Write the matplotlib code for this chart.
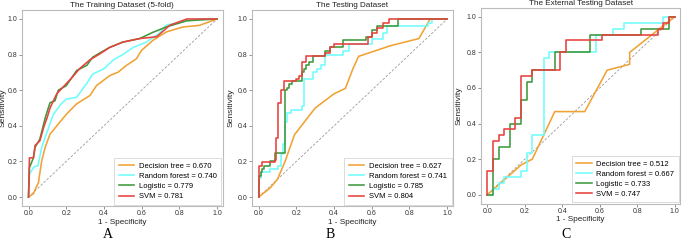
import matplotlib.pyplot as plt

plt.rcParams['font.family'] = ['Liberation Sans', 'DejaVu Sans']

# ---- data (fpr, tpr) ----
# A: training (5-fold)
train_dt_x = [0, 0.026, 0.040, 0.053, 0.062, 0.070, 0.088, 0.114, 0.158, 0.202, 0.255, 0.326, 0.361, 0.431, 0.475, 0.519, 0.572, 0.599, 0.660, 0.731, 0.819, 0.907, 1.0]
train_dt_y = [0, 0.019, 0.053, 0.081, 0.147, 0.203, 0.278, 0.353, 0.410, 0.466, 0.523, 0.570, 0.626, 0.682, 0.701, 0.739, 0.776, 0.823, 0.880, 0.927, 0.955, 0.964, 1.0]
train_rf_x = [0, 0.005, 0.03, 0.05, 0.07, 0.10, 0.13, 0.17, 0.20, 0.255, 0.31, 0.34, 0.40, 0.45, 0.50, 0.555, 0.625, 0.695, 0.73, 0.84, 0.92, 1.0]
train_rf_y = [0, 0.13, 0.17, 0.175, 0.28, 0.37, 0.46, 0.52, 0.55, 0.56, 0.64, 0.69, 0.72, 0.77, 0.80, 0.84, 0.87, 0.92, 0.965, 0.99, 1.0, 1.0]
train_lr_x = [0, 0.005, 0.026, 0.035, 0.06, 0.09, 0.114, 0.14, 0.158, 0.20, 0.255, 0.31, 0.34, 0.38, 0.43, 0.50, 0.59, 0.66, 0.73, 0.84, 1.0]
train_lr_y = [0, 0.165, 0.22, 0.28, 0.325, 0.45, 0.53, 0.54, 0.60, 0.625, 0.71, 0.74, 0.785, 0.81, 0.84, 0.87, 0.89, 0.925, 0.955, 0.99, 1.0]
train_svm_x = [0, 0.005, 0.026, 0.035, 0.06, 0.08, 0.10, 0.114, 0.15, 0.19, 0.23, 0.27, 0.325, 0.38, 0.43, 0.50, 0.59, 0.68, 0.75, 0.84, 1.0]
train_svm_y = [0, 0.22, 0.22, 0.29, 0.315, 0.39, 0.45, 0.50, 0.58, 0.625, 0.67, 0.72, 0.77, 0.805, 0.84, 0.87, 0.89, 0.90, 0.965, 1.0, 1.0]

# B: testing (step curves: x where each jump happens, tpr after jump)
test_dt_x = [0, 0.06, 0.10, 0.14, 0.19, 0.30, 0.40, 0.46, 0.50, 0.53, 0.70, 0.85, 0.91, 1.0]
test_dt_y = [0, 0.05, 0.10, 0.20, 0.35, 0.50, 0.58, 0.61, 0.72, 0.79, 0.85, 0.89, 1.0, 1.0]
test_rf_x = [0, 0.01, 0.06, 0.10, 0.12, 0.13, 0.14, 0.15, 0.17, 0.23, 0.24, 0.29, 0.31, 0.33, 0.35, 0.45, 0.48, 0.60, 0.66, 0.68, 0.90, 0.92, 1.0]
test_rf_y = [0.105, 0.14, 0.16, 0.175, 0.24, 0.30, 0.42, 0.47, 0.49, 0.51, 0.665, 0.70, 0.72, 0.74, 0.80, 0.82, 0.86, 0.89, 0.92, 0.96, 0.98, 1.0, 1.0]
test_lr_x = [0, 0.01, 0.02, 0.03, 0.06, 0.085, 0.14, 0.15, 0.16, 0.175, 0.23, 0.24, 0.25, 0.265, 0.29, 0.35, 0.38, 0.45, 0.57, 0.60, 0.63, 0.74, 1.0]
test_lr_y = [0.12, 0.14, 0.16, 0.175, 0.20, 0.245, 0.60, 0.615, 0.635, 0.65, 0.70, 0.72, 0.74, 0.76, 0.79, 0.82, 0.84, 0.88, 0.90, 0.94, 0.96, 1.0, 1.0]
test_svm_x = [0, 0.02, 0.085, 0.09, 0.10, 0.12, 0.135, 0.20, 0.215, 0.23, 0.25, 0.35, 0.38, 0.40, 0.58, 0.60, 0.63, 0.66, 0.69, 1.0]
test_svm_y = [0.175, 0.195, 0.21, 0.33, 0.53, 0.60, 0.65, 0.665, 0.68, 0.76, 0.79, 0.81, 0.84, 0.86, 0.90, 0.92, 0.95, 0.98, 1.0, 1.0]

# C: external testing
ext_dt_x = [0, 0.18, 0.24, 0.36, 0.52, 0.64, 0.76, 0.76, 1.0]
ext_dt_y = [0, 0.167, 0.20, 0.467, 0.467, 0.70, 0.733, 0.80, 1.0]
ext_rf_x = [0, 0.03, 0.06, 0.09, 0.18, 0.21, 0.24, 0.30, 0.33, 0.58, 0.67, 0.73, 0.94, 1.0]
ext_rf_y = [0, 0.033, 0.067, 0.10, 0.133, 0.233, 0.333, 0.767, 0.80, 0.90, 0.933, 0.967, 1.0, 1.0]
ext_lr_x = [0, 0.03, 0.06, 0.12, 0.18, 0.21, 0.24, 0.36, 0.55, 0.82, 0.97, 1.0]
ext_lr_y = [0, 0.20, 0.267, 0.40, 0.533, 0.633, 0.70, 0.80, 0.90, 0.933, 1.0, 1.0]
ext_svm_x = [0, 0.03, 0.06, 0.09, 0.15, 0.18, 0.24, 0.39, 0.42, 0.61, 0.91, 0.94, 0.97, 1.0]
ext_svm_y = [0.133, 0.30, 0.333, 0.367, 0.433, 0.667, 0.70, 0.80, 0.867, 0.90, 0.933, 0.967, 1.0, 1.0]

names = ['Decision tree', 'Random forest', 'Logistic', 'SVM']
auc_train = [0.670, 0.740, 0.779, 0.781]
auc_test = [0.627, 0.741, 0.785, 0.804]
auc_ext = [0.512, 0.667, 0.733, 0.747]
titles = ['The Training Dataset (5-fold)', 'The Testing Dataset', 'The External Testing Dataset']
letters = ['A', 'B', 'C']
colors = ['#f0a235', '#6ffcfc', '#3d9a3d', '#e8413c']


def step_pts(xs, ys):
    # turn jump points into vertical-then-horizontal ROC staircase
    px, py = [0], [0]
    for x, y in zip(xs, ys):
        px += [x, x]
        py += [py[-1], y]
    return px, py


fig = plt.figure(figsize=(6.85, 2.4), dpi=100)
positions = [[0.032, 0.142, 0.293, 0.816],
             [0.368, 0.142, 0.293, 0.816],
             [0.702, 0.152, 0.291, 0.815]]
ylab_x = [-0.076, -0.088, -0.092]

panels = [
    [(train_dt_x, train_dt_y, False), (train_rf_x, train_rf_y, False),
     (train_lr_x, train_lr_y, False), (train_svm_x, train_svm_y, False)],
    [(test_dt_x, test_dt_y, False), (test_rf_x, test_rf_y, True),
     (test_lr_x, test_lr_y, True), (test_svm_x, test_svm_y, True)],
    [(ext_dt_x, ext_dt_y, False), (ext_rf_x, ext_rf_y, True),
     (ext_lr_x, ext_lr_y, True), (ext_svm_x, ext_svm_y, True)],
]
aucs = [auc_train, auc_test, auc_ext]
letter_x = [0.157, 0.482, 0.826]

for k in range(3):
    ax = fig.add_axes(positions[k])
    ax.plot([0, 1], [0, 1], color='#999999', lw=0.6, ls=(0, (3, 2)))
    for j, (xs, ys, stepped) in enumerate(panels[k]):
        if stepped:
            xs, ys = step_pts(xs, ys)
        ax.plot(xs, ys, color=colors[j], lw=1.15,
                label='%s = %.3f' % (names[j], aucs[k][j]))
    ax.set_xlim(-0.035, 1.03)
    ax.set_ylim(-0.05, 1.05)
    ax.set_xticks([0, 0.2, 0.4, 0.6, 0.8, 1.0])
    ax.set_yticks([0, 0.2, 0.4, 0.6, 0.8, 1.0])
    ax.tick_params(labelsize=5, length=2, width=0.5, color='#666666', pad=1.2, labelcolor='#333333')
    for s in ax.spines.values():
        s.set_color('#bbbbbb')
        s.set_linewidth(0.8)
    ax.set_title(titles[k], fontsize=5.9, pad=2, color='#222222')
    ax.set_xlabel('1 - Specificity', fontsize=5.9, labelpad=1, color='#222222')
    ax.set_ylabel('Sensitivity', fontsize=6.1, color='#222222')
    ax.yaxis.set_label_coords(ylab_x[k], 0.5)
    leg = ax.legend(loc='lower right', fontsize=5.5, frameon=True, fancybox=False,
                    handlelength=2.0, borderpad=0.6, labelspacing=0.35, borderaxespad=0.15,
                    handletextpad=0.65)
    leg.get_frame().set_edgecolor('#cccccc')
    leg.get_frame().set_linewidth(0.6)
    fig.text(letter_x[k], 0.01, letters[k], fontsize=10, family='Liberation Serif', ha='center')

fig.savefig('out.png', dpi=100)
